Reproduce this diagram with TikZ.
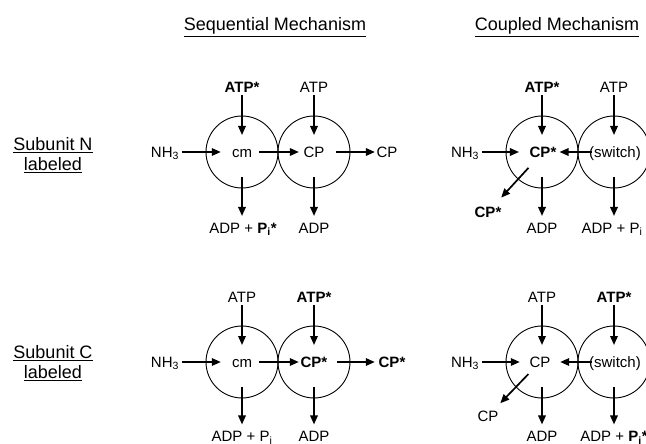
\documentclass[tikz,border=0pt]{standalone}
\usepackage{fontspec}
\setmainfont{Liberation Sans}
\usetikzlibrary{arrows.meta}
\begin{document}
\begin{tikzpicture}[x=1pt,y=-1pt,
  lab/.style={font=\fontsize{15}{17}\selectfont, inner sep=0pt, text height=10.7pt, text depth=0pt},
  head/.style={font=\fontsize{18}{20}\selectfont, inner sep=0pt, align=center},
  ring/.style={circle, draw, line width=0.9pt, minimum size=72pt, inner sep=0pt},
  arr/.style={line width=1.7pt, -{Triangle[length=9pt,width=7.5pt]}},
  vin/.style={arr, shorten <=2.5pt, shorten >=17pt},
  vout/.style={arr, shorten <=25pt, shorten >=6.5pt}]
\useasboundingbox (0,0) rectangle (646,444);

% headings
\node[head] (hS) at (275,27) {\underline{Sequential Mechanism}};
\node[head] (hC) at (557,27) {\underline{Coupled Mechanism}};
\node[head] (sN) at (53,155) {\underline{Subunit N}\\\underline{labeled}};
\node[head] (sC) at (53,363) {\underline{Subunit C}\\\underline{labeled}};

% ---- top-left: sequential, subunit N
\node[ring] (rA1) at (242,152) {};
\node[ring] (rA2) at (314,152) {};
\node[lab] (nhA) at (165,152) {NH\textsubscript{3}};
\node[lab] (cmA) at (242,152) {cm};
\node[lab] (cpA) at (314,152) {CP};
\node[lab] (cpoA) at (387,152) {CP};
\node[lab] (atA1) at (242,87) {\textbf{ATP*}};
\node[lab] (atA2) at (314,87) {ATP};
\node[lab] (adA1) at (243,228) {ADP + \textbf{P\textsubscript{i}*}};
\node[lab] (adA2) at (314,228) {ADP};
\draw[arr, shorten <=3pt, shorten >=11pt] (nhA) -- (cmA);
\draw[arr, shorten <=7pt, shorten >=4.5pt] (cmA) -- (cpA);
\draw[arr, shorten <=11.5pt, shorten >=1.5pt] (cpA) -- (cpoA);
\draw[vin] (atA1.south) -- (atA1.south |- rA1.center);
\draw[vin] (atA2.south) -- (atA2.south |- rA2.center);
\draw[vout] (rA1.center) -- (rA1.center |- adA1.north);
\draw[vout] (rA2.center) -- (rA2.center |- adA2.north);

% ---- top-right: coupled, subunit N
\node[ring] (rB1) at (542,152) {};
\node[ring] (rB2) at (614,152) {};
\node[lab] (nhB) at (465,152) {NH\textsubscript{3}};
\node[lab] (cpB) at (543,152) {\textbf{CP*}};
\node[lab] (swB) at (615,152) {(switch)};
\node[lab] (atB1) at (542,87) {\textbf{ATP*}};
\node[lab] (atB2) at (614,87) {ATP};
\node[lab] (cpoB) at (488,212) {\textbf{CP*}};
\node[lab] (adB1) at (542,228) {ADP};
\node[lab] (adB2) at (612,228) {ADP + P\textsubscript{i}};
\draw[arr, shorten <=3pt, shorten >=10.5pt] (nhB) -- (cpB);
\draw[arr, shorten <=-3pt, shorten >=3pt] (swB) -- (cpB);
\draw[arr, shorten <=14pt, shorten >=12pt] (cpB) -- (cpoB);
\draw[vin] (atB1.south) -- (atB1.south |- rB1.center);
\draw[vin] (atB2.south) -- (atB2.south |- rB2.center);
\draw[vout] (rB1.center) -- (rB1.center |- adB1.north);
\draw[vout] (rB2.center) -- (rB2.center |- adB2.north);

% ---- bottom-left: sequential, subunit C
\node[ring] (rC1) at (242,362) {};
\node[ring] (rC2) at (314,362) {};
\node[lab] (nhC) at (165,362) {NH\textsubscript{3}};
\node[lab] (cmC) at (242,362) {cm};
\node[lab] (cpC) at (314,362) {\textbf{CP*}};
\node[lab] (cpoC) at (392,362) {\textbf{CP*}};
\node[lab] (atC1) at (242,297) {ATP};
\node[lab] (atC2) at (314,297) {\textbf{ATP*}};
\node[lab] (adC1) at (242,436.5) {ADP + P\textsubscript{i}};
\node[lab] (adC2) at (314,436.5) {ADP};
\draw[arr, shorten <=3pt, shorten >=11pt] (nhC) -- (cmC);
\draw[arr, shorten <=7pt, shorten >=1.7pt] (cmC) -- (cpC);
\draw[arr, shorten <=9.7pt, shorten >=3.7pt] (cpC) -- (cpoC);
\draw[vin] (atC1.south) -- (atC1.south |- rC1.center);
\draw[vin] (atC2.south) -- (atC2.south |- rC2.center);
\draw[vout] (rC1.center) -- (rC1.center |- adC1.north);
\draw[vout] (rC2.center) -- (rC2.center |- adC2.north);

% ---- bottom-right: coupled, subunit C
\node[ring] (rD1) at (542,362) {};
\node[ring] (rD2) at (614,362) {};
\node[lab] (nhD) at (465,362) {NH\textsubscript{3}};
\node[lab] (cpD) at (540,362) {CP};
\node[lab] (swD) at (615,362) {(switch)};
\node[lab] (atD1) at (542,297) {ATP};
\node[lab] (atD2) at (614,297) {\textbf{ATP*}};
\node[lab] (cpoD) at (488,416) {CP};
\node[lab] (adD1) at (542,436.5) {ADP};
\node[lab] (adD2) at (614,436.5) {ADP + \textbf{P\textsubscript{i}*}};
\draw[arr, shorten <=3pt, shorten >=9.6pt] (nhD) -- (cpD);
\draw[arr, shorten <=-3pt, shorten >=9.6pt] (swD) -- (cpD);
\draw[arr, shorten <=9pt, shorten >=10pt] (cpD) -- (cpoD);
\draw[vin] (atD1.south) -- (atD1.south |- rD1.center);
\draw[vin] (atD2.south) -- (atD2.south |- rD2.center);
\draw[vout] (rD1.center) -- (rD1.center |- adD1.north);
\draw[vout] (rD2.center) -- (rD2.center |- adD2.north);
\end{tikzpicture}
\end{document}
